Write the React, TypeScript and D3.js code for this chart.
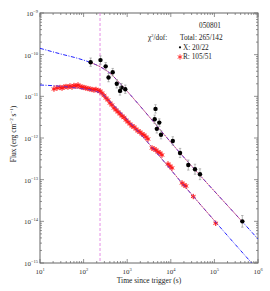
import React, { useEffect, useRef } from "react";
import * as d3 from "d3";

// X-ray (XRT) light curve: time since trigger (s), flux (erg cm^-2 s^-1), error (dex)
const xrtTime = [145, 244, 321, 465, 373, 577, 740, 684, 904, 4460, 4270, 5450, 4780, 5960, 11100, 16300, 25200, 35900, 46700, 437000];
const xrtFlux = [6.6e-11, 7.4e-11, 5.25e-11, 3.8e-11, 2.82e-11, 2.0e-11, 1.62e-11, 1.35e-11, 1.48e-11, 5.0e-12, 2.82e-12, 2.34e-12, 1.66e-12, 1.2e-12, 8.5e-13, 4.37e-13, 2.24e-13, 1.78e-13, 1.35e-13, 1.0e-14];
const xrtErr = [0.1, 0.1, 0.09, 0.09, 0.1, 0.1, 0.1, 0.1, 0.1, 0.1, 0.1, 0.09, 0.1, 0.1, 0.1, 0.11, 0.12, 0.12, 0.13, 0.14];

// Optical (R band) light curve, same units
const rTime = [20.9, 24.5, 28.8, 32.0, 35.5, 39.5, 43.8, 48.7, 54.2, 60.2, 66.9, 74.4, 82.7, 91.9, 102, 113, 126, 140, 156, 173, 192, 214, 238, 264, 294, 326, 363, 403, 448, 498, 554, 615, 684, 760, 845, 938, 1042, 1159, 1288, 1432, 1591, 1770, 1967, 2185, 2428, 2698, 3000, 3707, 4121, 4581, 5085, 5650, 6281, 8630, 9590, 10670, 18070, 20090, 22340, 32810, 107200];
const rFlux = [1.5e-11, 1.58e-11, 1.63e-11, 1.58e-11, 1.67e-11, 1.72e-11, 1.67e-11, 1.77e-11, 1.67e-11, 1.82e-11, 1.77e-11, 1.87e-11, 1.72e-11, 1.67e-11, 1.63e-11, 1.58e-11, 1.54e-11, 1.5e-11, 1.46e-11, 1.42e-11, 1.46e-11, 1.38e-11, 1.34e-11, 1.2e-11, 1.05e-11, 9.12e-12, 8.17e-12, 6.92e-12, 6.19e-12, 5.25e-12, 4.7e-12, 4.21e-12, 3.77e-12, 3.37e-12, 3.1e-12, 2.7e-12, 2.42e-12, 2.17e-12, 1.94e-12, 1.84e-12, 1.64e-12, 1.47e-12, 1.39e-12, 1.25e-12, 1.18e-12, 1.06e-12, 9.46e-13, 5.75e-13, 5.45e-13, 5.15e-13, 4.61e-13, 4.37e-13, 3.91e-13, 2.38e-13, 2.13e-13, 1.91e-13, 8.32e-14, 7.45e-14, 7.05e-14, 3.94e-14, 8.97e-15];
const rErr = 0.06;

// fitted model curves
const xModelTime = [10, 28.8, 82.6, 140, 238, 404, 684, 1159, 16300, 436000, 1e6];
const xModelFlux = [1.42e-10, 1.05e-10, 7.87e-11, 6.56e-11, 5.14e-11, 3.57e-11, 2.06e-11, 1.11e-11, 4.37e-13, 9.8e-15, 3.77e-15];
const rModelTime = [10, 28.8, 75.5, 182, 283, 441, 891, 3334, 21200, 113000, 718000, 1e6];
const rModelFlux = [1.87e-11, 1.75e-11, 1.56e-11, 1.34e-11, 1.08e-11, 6.81e-12, 3.19e-12, 6.79e-13, 6.79e-14, 8.97e-15, 1.0e-15, 6.8e-16];

const dashedTime = 238;

const xTickExp = [1, 2, 3, 4, 5, 6];
const yTickExp = [-9, -10, -11, -12, -13, -14, -15];

const width = 270;
const height = 291;
const margin = { top: 13, right: 12, bottom: 28, left: 40 };
const font = "'Liberation Serif', 'Times New Roman', serif";

export default function App() {
  const svgRef = useRef<SVGSVGElement>(null);

  useEffect(() => {
    const svg = d3.select(svgRef.current);
    svg.selectAll("*").remove();

    const x = d3.scaleLog().domain([1e1, 1e6]).range([margin.left, width - margin.right]);
    const y = d3.scaleLog().domain([1e-15, 1e-9]).range([height - margin.bottom, margin.top]);
    const [x0, x1] = x.range();
    const [y0, y1] = y.range();

    svg.append("rect").attr("width", width).attr("height", height).attr("fill", "#fff");

    const defs = svg.append("defs");
    defs.append("clipPath").attr("id", "plot").append("rect")
      .attr("x", x0).attr("y", y1).attr("width", x1 - x0).attr("height", y0 - y1);
    defs.append("clipPath").attr("id", "xrtRange").append("rect")
      .attr("x", x(d3.min(xrtTime)!)).attr("y", y1)
      .attr("width", x(d3.max(xrtTime)!) - x(d3.min(xrtTime)!)).attr("height", y0 - y1);
    defs.append("clipPath").attr("id", "rRange").append("rect")
      .attr("x", x(d3.min(rTime)!)).attr("y", y1)
      .attr("width", x(d3.max(rTime)!) - x(d3.min(rTime)!)).attr("height", y0 - y1);

    // ticks (inward on all four sides)
    const axisColor = "#666";
    const ticks = svg.append("g").attr("stroke", axisColor).attr("stroke-width", 0.7);
    const xMajor = xTickExp.map((k) => Math.pow(10, k));
    const xMinor = d3.range(1, 6).flatMap((k) => d3.range(2, 10).map((m) => m * Math.pow(10, k)));
    const yMajor = yTickExp.map((k) => Math.pow(10, k));
    const yMinor = d3.range(-15, -9).flatMap((k) => d3.range(2, 10).map((m) => m * Math.pow(10, k)));

    const xt = [...xMajor.map((v) => [v, 4]), ...xMinor.map((v) => [v, 2])];
    xt.forEach(([v, len]) => {
      ticks.append("line").attr("x1", x(v)).attr("x2", x(v)).attr("y1", y0).attr("y2", y0 - len);
      ticks.append("line").attr("x1", x(v)).attr("x2", x(v)).attr("y1", y1).attr("y2", y1 + len);
    });
    const yt = [...yMajor.map((v) => [v, 4]), ...yMinor.map((v) => [v, 2])];
    yt.forEach(([v, len]) => {
      ticks.append("line").attr("y1", y(v)).attr("y2", y(v)).attr("x1", x0).attr("x2", x0 + len);
      ticks.append("line").attr("y1", y(v)).attr("y2", y(v)).attr("x1", x1).attr("x2", x1 - len);
    });

    svg.append("rect")
      .attr("x", x0).attr("y", y1).attr("width", x1 - x0).attr("height", y0 - y1)
      .attr("fill", "none").attr("stroke", axisColor).attr("stroke-width", 1);

    // tick labels
    const labels = svg.append("g").attr("font-family", font).attr("fill", "#333").attr("font-size", 7);
    xTickExp.forEach((k) => {
      const t = labels.append("text").attr("x", x(Math.pow(10, k))).attr("y", y0 + 11).attr("text-anchor", "middle");
      t.append("tspan").text("10");
      t.append("tspan").attr("dy", -3).attr("font-size", 4.5).text(`${k}`);
    });
    yTickExp.forEach((k) => {
      const t = labels.append("text").attr("x", x0 - 2).attr("y", y(Math.pow(10, k)) + 3).attr("text-anchor", "end");
      t.append("tspan").text("10");
      t.append("tspan").attr("dy", -3).attr("font-size", 4.5).text(`\u2212${-k}`);
    });

    // axis titles
    svg.append("text")
      .attr("x", (x0 + x1) / 2).attr("y", height - 8)
      .attr("text-anchor", "middle").attr("font-family", font).attr("font-size", 7.5).attr("fill", "#222")
      .text("Time since trigger (s)");
    const yTitle = svg.append("text")
      .attr("transform", `translate(16, ${(y0 + y1) / 2 - 4}) rotate(-90)`)
      .attr("text-anchor", "middle").attr("font-family", font).attr("font-size", 7.5).attr("fill", "#222");
    yTitle.append("tspan").text("Flux (erg cm");
    yTitle.append("tspan").attr("dy", -3).attr("font-size", 5).text("\u22122");
    yTitle.append("tspan").attr("dy", 3).text(" s");
    yTitle.append("tspan").attr("dy", -3).attr("font-size", 5).text("\u22121");
    yTitle.append("tspan").attr("dy", 3).text(")");

    // dashed vertical marker
    svg.append("line")
      .attr("x1", x(dashedTime)).attr("x2", x(dashedTime)).attr("y1", y1).attr("y2", y0)
      .attr("stroke", "#e070e0").attr("stroke-width", 0.8).attr("stroke-dasharray", "3,2");

    const plot = svg.append("g").attr("clip-path", "url(#plot)");

    // R band points
    const star = d3.symbol().type((d3 as any).symbolAsterisk || d3.symbolCross).size(20);
    rTime.forEach((t, i) => {
      const f = rFlux[i];
      const px = x(t);
      plot.append("line")
        .attr("x1", px).attr("x2", px)
        .attr("y1", y(f * Math.pow(10, -rErr))).attr("y2", y(f * Math.pow(10, rErr)))
        .attr("stroke", "#ff8080").attr("stroke-width", 0.8);
      plot.append("line")
        .attr("x1", px - 2).attr("x2", px + 2).attr("y1", y(f)).attr("y2", y(f))
        .attr("stroke", "#ff8080").attr("stroke-width", 0.8);
    });
    rTime.forEach((t, i) => {
      plot.append("path")
        .attr("d", star()!)
        .attr("transform", `translate(${x(t)},${y(rFlux[i])})`)
        .attr("fill", "#ff2020").attr("stroke", "#ff1010").attr("stroke-width", 0.9);
    });

    // models: blue dash-dot over the whole range, thin red where data exist
    const xPts = xModelTime.map((t, i) => [x(t), y(xModelFlux[i])] as [number, number]);
    const rPts = rModelTime.map((t, i) => [x(t), y(rModelFlux[i])] as [number, number]);
    const modelLine = d3.line().curve(d3.curveMonotoneX);
    [xPts, rPts].forEach((pts) => {
      plot.append("path").attr("d", modelLine(pts)!)
        .attr("fill", "none").attr("stroke", "#2222ff").attr("stroke-width", 1)
        .attr("stroke-dasharray", "4,1.5,1,1.5");
    });
    plot.append("g").attr("clip-path", "url(#xrtRange)").append("path").attr("d", modelLine(xPts)!)
      .attr("fill", "none").attr("stroke", "#ff4040").attr("stroke-width", 0.5);
    plot.append("g").attr("clip-path", "url(#rRange)").append("path").attr("d", modelLine(rPts)!)
      .attr("fill", "none").attr("stroke", "#ff4040").attr("stroke-width", 0.5);

    // X-ray points
    xrtTime.forEach((t, i) => {
      const f = xrtFlux[i];
      const e = xrtErr[i];
      const px = x(t);
      const ya = y(f * Math.pow(10, -e));
      const yb = y(f * Math.pow(10, e));
      const g = plot.append("g").attr("stroke", "#999").attr("stroke-width", 0.7);
      g.append("line").attr("x1", px).attr("x2", px).attr("y1", ya).attr("y2", yb);
      g.append("line").attr("x1", px - 1.2).attr("x2", px + 1.2).attr("y1", ya).attr("y2", ya);
      g.append("line").attr("x1", px - 1.2).attr("x2", px + 1.2).attr("y1", yb).attr("y2", yb);
      plot.append("circle").attr("cx", px).attr("cy", y(f)).attr("r", 2.2).attr("fill", "#000");
    });

    // legend
    const leg = svg.append("g").attr("font-family", font).attr("font-size", 7.3).attr("fill", "#222");
    leg.append("text").attr("x", 210).attr("y", 27.5).attr("text-anchor", "middle").text("050801");
    const chi = leg.append("text").attr("x", 148).attr("y", 40);
    chi.append("tspan").text("\u03c7");
    chi.append("tspan").attr("dy", -3).attr("font-size", 4.5).text("2");
    chi.append("tspan").attr("dy", 3).text("/dof:");
    leg.append("text").attr("x", 180).attr("y", 40).text("Total: 265/142");
    leg.append("circle").attr("cx", 180).attr("cy", 47.3).attr("r", 1.1).attr("fill", "#000");
    leg.append("text").attr("x", 183).attr("y", 49.5).text("X: 20/22");
    leg.append("path").attr("d", star()!).attr("transform", "translate(180,57)")
      .attr("fill", "#ff2020").attr("stroke", "#ff1010").attr("stroke-width", 0.8);
    leg.append("text").attr("x", 183).attr("y", 59).text("R: 105/51");
  }, []);

  return (
    <svg
      ref={svgRef}
      width={width}
      height={height}
      style={{ position: "absolute", left: 0, top: 0, display: "block" }}
    />
  );
}
